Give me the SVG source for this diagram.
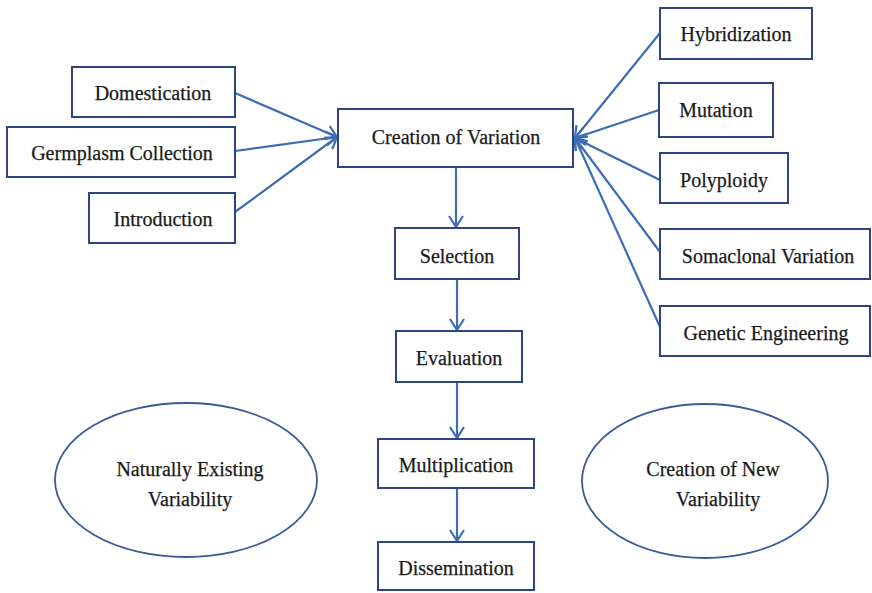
<svg xmlns="http://www.w3.org/2000/svg" width="872" height="593" viewBox="0 0 872 593">
<style>
.box{fill:#fff;stroke:#2f4483;stroke-width:2}
.ell{fill:#fff;stroke:#3a5a98;stroke-width:1.8}
.lbl{font-family:'Liberation Serif','DejaVu Serif',serif;font-size:20px;fill:#1a1a1a;stroke:#1a1a1a;stroke-width:0.25;text-anchor:middle;dominant-baseline:central}
.con{stroke:#3d6db5;stroke-width:2.2;fill:none}
</style>
<defs>
<marker id="ah" markerWidth="14" markerHeight="16" refX="12" refY="8" orient="auto" markerUnits="userSpaceOnUse">
<path d="M1,1 L12,8 L1,15" fill="none" stroke="#3d6db5" stroke-width="2.2"/>
</marker>
</defs>
<rect width="872" height="593" fill="#fff"/>
<g id="connectors">
<line class="con" x1="235" y1="93" x2="337" y2="137" marker-end="url(#ah)"/>
<line class="con" x1="235" y1="151" x2="337" y2="137" marker-end="url(#ah)"/>
<line class="con" x1="235" y1="212" x2="337" y2="137" marker-end="url(#ah)"/>
<line class="con" x1="660" y1="33" x2="575" y2="138" marker-end="url(#ah)"/>
<line class="con" x1="659" y1="110" x2="575" y2="138" marker-end="url(#ah)"/>
<line class="con" x1="660" y1="180" x2="575" y2="138" marker-end="url(#ah)"/>
<line class="con" x1="660" y1="252" x2="575" y2="138" marker-end="url(#ah)"/>
<line class="con" x1="660" y1="327" x2="575" y2="138" marker-end="url(#ah)"/>
<line class="con" x1="456" y1="167" x2="456" y2="227" marker-end="url(#ah)"/>
<line class="con" x1="457" y1="279" x2="457" y2="330" marker-end="url(#ah)"/>
<line class="con" x1="457" y1="382" x2="457" y2="438" marker-end="url(#ah)"/>
<line class="con" x1="457" y1="488" x2="457" y2="541" marker-end="url(#ah)"/>
</g>
<g id="domestication"><rect class="box" x="72" y="67" width="163" height="50"/><text class="lbl" x="153" y="93">Domestication</text></g>
<g id="germplasm"><rect class="box" x="7" y="127" width="228" height="50"/><text class="lbl" x="122" y="153">Germplasm Collection</text></g>
<g id="introduction"><rect class="box" x="89" y="193" width="146" height="50"/><text class="lbl" x="163" y="219">Introduction</text></g>
<g id="creation"><rect class="box" x="338" y="109" width="235" height="58"/><text class="lbl" x="456" y="137">Creation of Variation</text></g>
<g id="hybridization"><rect class="box" x="660" y="8" width="152" height="51"/><text class="lbl" x="736" y="34">Hybridization</text></g>
<g id="mutation"><rect class="box" x="659" y="83" width="114" height="54"/><text class="lbl" x="716" y="110">Mutation</text></g>
<g id="polyploidy"><rect class="box" x="660" y="153" width="128" height="50"/><text class="lbl" x="724" y="180">Polyploidy</text></g>
<g id="somaclonal"><rect class="box" x="660" y="229" width="210" height="50"/><text class="lbl" x="768" y="256">Somaclonal Variation</text></g>
<g id="genetic"><rect class="box" x="660" y="306" width="210" height="50"/><text class="lbl" x="766" y="333">Genetic Engineering</text></g>
<g id="selection"><rect class="box" x="395" y="228" width="124" height="51"/><text class="lbl" x="457" y="256">Selection</text></g>
<g id="evaluation"><rect class="box" x="396" y="331" width="126" height="51"/><text class="lbl" x="459" y="358">Evaluation</text></g>
<g id="multiplication"><rect class="box" x="378" y="439" width="156" height="49"/><text class="lbl" x="456" y="465">Multiplication</text></g>
<g id="dissemination"><rect class="box" x="378" y="542" width="156" height="48"/><text class="lbl" x="456" y="568">Dissemination</text></g>
<g id="naturally"><ellipse class="ell" cx="186" cy="480" rx="131" ry="77"/><text class="lbl" x="190" y="469">Naturally Existing</text><text class="lbl" x="190" y="499">Variability</text></g>
<g id="newvar"><ellipse class="ell" cx="705" cy="481" rx="123" ry="77"/><text class="lbl" x="713" y="469">Creation of New</text><text class="lbl" x="718" y="499">Variability</text></g>
</svg>
